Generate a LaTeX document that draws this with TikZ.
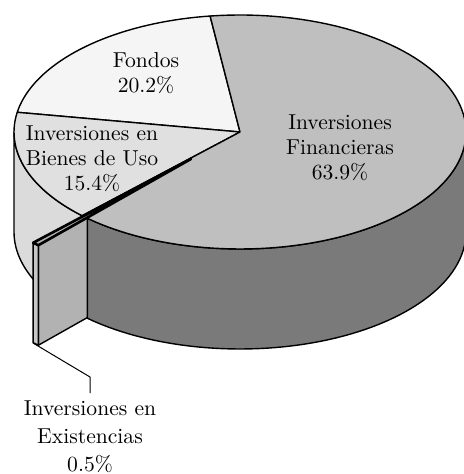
\documentclass[tikz,border=0pt]{standalone}
\usepackage{tikz}

\begin{document}
\begin{tikzpicture}[x=0.5pt, y=0.5pt, line join=round,
  edge/.style={draw=black, line width=0.7pt},
  slicelabel/.style={align=center, inner sep=0pt, font=\fontsize{10.8}{12.4}\selectfont},
  leaderlabel/.style={align=center, inner sep=0pt, outer sep=4pt, font=\fontsize{10.8}{14}\selectfont}]
\useasboundingbox (0,0) rectangle (463,-474);
\begin{scope}[shift={(240,-132)}]
\coordinate (C) at (0,0);
\coordinate (E) at (-49,-27);
% side walls
\filldraw [fill=black!14, edge] plot[domain=180:225.7, samples=30] ({226*cos(\x)},{117*sin(\x)}) -- plot[domain=225.7:180, samples=30] ({226*cos(\x)},{117*sin(\x)-100}) -- cycle;
\filldraw [fill=black!30, edge] (E) -- ++(227.5:226 and 117) -- ++(0,-100) -- (-49,-127) -- cycle;
\filldraw [fill=black!22, edge] plot[domain=225.7:227.5, samples=5] ({226*cos(\x)-49},{117*sin(\x)-27}) -- plot[domain=227.5:225.7, samples=5] ({226*cos(\x)-49},{117*sin(\x)-127}) -- cycle;
\filldraw [fill=black!52, edge] plot[domain=227.5:360, samples=60] ({226*cos(\x)},{117*sin(\x)}) -- plot[domain=360:227.5, samples=60] ({226*cos(\x)},{117*sin(\x)-100}) -- cycle;
% top of the slices
\filldraw [fill=black!4, edge] (C) -- plot[domain=97.6:170.3, samples=40] ({226*cos(\x)},{117*sin(\x)}) -- cycle;
\filldraw [fill=black!12, edge] (C) -- plot[domain=170.3:225.7, samples=30] ({226*cos(\x)},{117*sin(\x)}) -- cycle;
\filldraw [fill=black!25, edge] (C) -- plot[domain=225.7:457.6, samples=100] ({226*cos(\x)},{117*sin(\x)}) -- cycle;
\filldraw [fill=black!30, draw=black, line width=1.3pt] (E) -- plot[domain=225.7:227.5, samples=5] ({226*cos(\x)-49},{117*sin(\x)-27}) -- cycle;
% labels
\node [slicelabel] (fondos) at (-94,59) {Fondos\\20.2\%};
\node [slicelabel] (bienes) at (-148,-27) {Inversiones en\\Bienes de Uso\\15.4\%};
\node [slicelabel] (financieras) at (100,-16) {Inversiones\\Financieras\\63.9\%};
\node [leaderlabel, anchor=north] (existencias) at (-150,-261) {Inversiones en\\Existencias\\0.5\%};
\coordinate (tip) at (-207,-211);
\coordinate (bend) at (-150,-245);
\draw [line width=0.5pt] (tip) -- (bend) -- (existencias.north);
\end{scope}
\end{tikzpicture}
\end{document}
